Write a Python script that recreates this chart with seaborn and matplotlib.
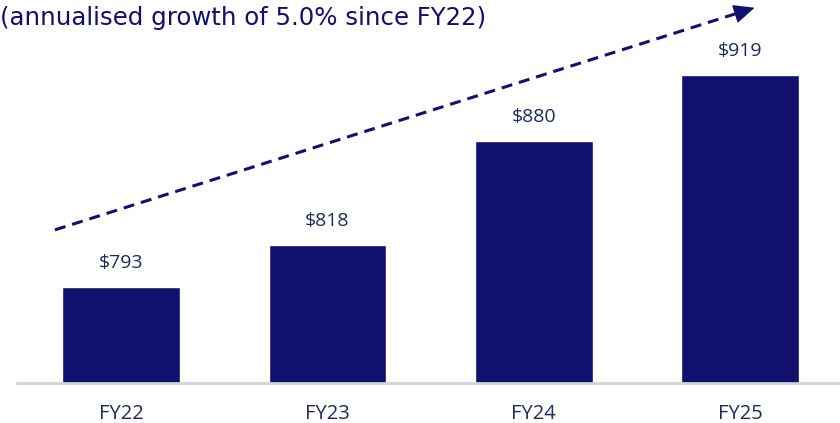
import matplotlib
matplotlib.use("Agg")
import matplotlib.pyplot as plt
import seaborn as sns
import pandas as pd

years = ["FY22", "FY23", "FY24", "FY25"]
values = [793, 818, 880, 919]
value_labels = ["$793", "$818", "$880", "$919"]
subtitle = "(annualised growth of 5.0% since FY22)"

BAR = "#10106e"
TXT = "#1c2a5c"

sns.set_theme(style="white")
plt.rcParams['font.family'] = ['Open Sans', 'DejaVu Sans']

fig = plt.figure(figsize=(8.4, 4.23), dpi=100)
ax = fig.add_axes([17/840, 40/423, 823/840, 383/423])

df = pd.DataFrame({"year": years, "value": values})
sns.barplot(data=df, x="year", y="value", color=BAR, width=0.57, saturation=1, ax=ax)

ax.set_xlim(-0.504, 3.484)
ax.set_ylim(736, 963.6)
ax.set_xlabel("")
ax.set_ylabel("")
ax.set_yticks([])
for s in ["top", "right", "left"]:
    ax.spines[s].set_visible(False)
ax.spines["bottom"].set_color("#d4d4d4")
ax.spines["bottom"].set_linewidth(2)
ax.tick_params(axis="x", length=0, pad=15, labelsize=14.5, labelcolor=TXT)

for i, (v, lab) in enumerate(zip(values, value_labels)):
    ax.annotate(lab.replace("$", r"\$"), xy=(i, v), xytext=(0, 17), textcoords="offset points",
                ha="center", va="center", fontsize=14, color=TXT)

# trend arrow: dashed shaft + solid head
x0, y0, x1, y1 = -0.32, 827, 3.07, 959
xm = 3.0
ym = y0 + (y1 - y0) * (xm - x0) / (x1 - x0)
ax.plot([x0, xm], [y0, ym], color=BAR, lw=2.2, linestyle=(0, (3.6, 2.3)),
        solid_capstyle="butt", dash_capstyle="butt", clip_on=False)
ax.annotate("", xy=(x1, y1), xytext=(xm, ym),
            arrowprops=dict(arrowstyle="-|>,head_length=1.1,head_width=0.5", color=BAR,
                            lw=1, shrinkA=0, shrinkB=0, mutation_scale=12),
            annotation_clip=False)

fig.text(0.0, 1 - 18/423, subtitle, ha="left", va="center", fontsize=17.6, color=BAR,
         family=["DejaVu Sans"])

fig.savefig("out.png", dpi=100)
